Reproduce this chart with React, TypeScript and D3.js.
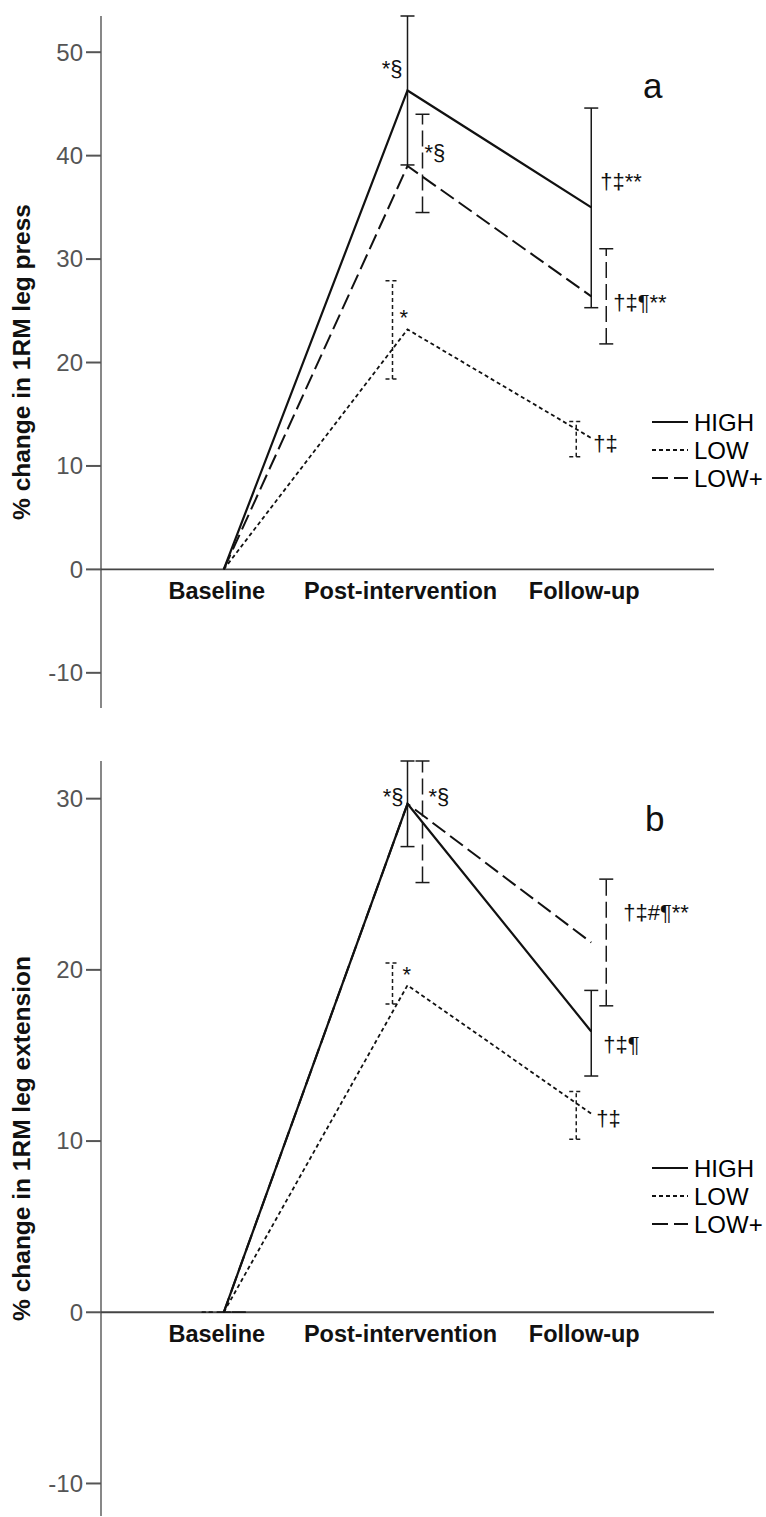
import * as d3 from 'd3';

const WIDTH = 766;
const HEIGHT = 1517;
const FONT = '"Liberation Sans", Arial, sans-serif';

// x positions shared by both panels
const categories = ['Baseline', 'Post-intervention', 'Follow-up'];
const seriesNames = ['HIGH', 'LOW', 'LOW+'];

// panel a : % change in 1RM leg press (mean, error bar low, error bar high)
const pressHigh = [0, 46.3, 35.0];
const pressHighLo = [null, 39.1, 25.3];
const pressHighHi = [null, 53.5, 44.6];
const pressLow = [0, 23.2, 12.7];
const pressLowLo = [null, 18.4, 10.9];
const pressLowHi = [null, 27.9, 14.3];
const pressLowPlus = [0, 39.0, 26.4];
const pressLowPlusLo = [null, 34.5, 21.8];
const pressLowPlusHi = [null, 44.0, 31.0];
const pressTicks = [-10, 0, 10, 20, 30, 40, 50];

// panel b : % change in 1RM leg extension
const extHigh = [0, 29.7, 16.4];
const extHighLo = [0, 27.2, 13.8];
const extHighHi = [0, 32.2, 18.8];
const extLow = [0, 19.1, 11.6];
const extLowLo = [0, 18.0, 10.1];
const extLowHi = [0, 20.4, 12.9];
const extLowPlus = [0, 29.7, 21.6];
const extLowPlusLo = [0, 25.1, 17.9];
const extLowPlusHi = [0, 32.2, 25.3];
const extTicks = [-10, 0, 10, 20, 30];

// significance marks: [category, value, pixel dx, anchor, text]
const pressNotes: [string, number, number, string, string][] = [
  ['Post-intervention', 47.7, -5, 'end', '*§'],
  ['Post-intervention', 39.6, 17, 'start', '*§'],
  ['Follow-up', 36.8, 9, 'start', '†‡**'],
  ['Follow-up', 25.1, 22, 'start', '†‡¶**'],
  ['Post-intervention', 23.6, -8, 'start', '*'],
  ['Follow-up', 11.4, 2, 'start', '†‡'],
];
const extNotes: [string, number, number, string, string][] = [
  ['Post-intervention', 29.7, -4, 'end', '*§'],
  ['Post-intervention', 29.7, 21, 'start', '*§'],
  ['Follow-up', 22.9, 32, 'start', '†‡#¶**'],
  ['Follow-up', 15.2, 12, 'start', '†‡¶'],
  ['Post-intervention', 19.3, -5, 'start', '*'],
  ['Follow-up', 10.9, 5, 'start', '†‡'],
];

const STYLE: Record<string, { dash: string; w: number; dodge: number }> = {
  HIGH: { dash: 'none', w: 2.2, dodge: 0 },
  LOW: { dash: '4,3', w: 1.8, dodge: -15 },
  'LOW+': { dash: '16,6', w: 2, dodge: 15 },
};

type Series = { name: string; mean: number[]; lo: (number | null)[]; hi: (number | null)[] };

const xScale = d3.scalePoint<string>().domain(categories).range([101, 714]).padding(0.668);

type PanelProps = {
  series: Series[];
  domain: [number, number];
  range: [number, number];
  ticks: number[];
  title: string;
  letter: string;
  letterPos: [number, number];
  legendY: number;
  notes: [string, number, number, string, string][];
};

const Panel = ({ series, domain, range, ticks, title, letter, letterPos, legendY, notes }: PanelProps) => {
  const y = d3.scaleLinear().domain(domain).range(range);
  const y0 = y(0);
  const line = d3
    .line<number>()
    .x((_, i) => xScale(categories[i]) as number)
    .y((d) => y(d));
  const axisX = 101;
  return (
    <g>
      {/* y axis */}
      <line x1={axisX} x2={axisX} y1={range[1]} y2={range[0]} stroke="#555" strokeWidth={1.4} />
      {ticks.map((t) => (
        <g key={t}>
          <line x1={86} x2={axisX} y1={y(t)} y2={y(t)} stroke="#555" strokeWidth={2} />
          <text x={83} y={y(t)} dy="0.35em" textAnchor="end" fontSize={24} fill="#555" fontFamily={FONT}>
            {t}
          </text>
        </g>
      ))}
      <text
        transform={`translate(30,${(range[0] + range[1]) / 2})rotate(-90)`}
        textAnchor="middle"
        fontSize={24.5}
        fontWeight="bold"
        fontFamily={FONT}
        fill="#111"
      >
        {title}
      </text>
      {/* zero line */}
      <line x1={axisX} x2={714} y1={y0} y2={y0} stroke="#444" strokeWidth={1.8} />
      {categories.map((c) => (
        <text
          key={c}
          x={(xScale(c) as number) - 7}
          y={y0 + 30}
          textAnchor="middle"
          fontSize={23.5}
          fontWeight="bold"
          fontFamily={FONT}
          fill="#111"
        >
          {c}
        </text>
      ))}
      {/* error bars */}
      {series.map((s) =>
        categories.map((c, i) => {
          const lo = s.lo[i];
          const hi = s.hi[i];
          if (lo === null || hi === null) return null;
          const st = STYLE[s.name];
          const cx = (xScale(c) as number) + st.dodge;
          return (
            <g key={s.name + c} stroke="#1a1a1a" strokeWidth={1.5} strokeDasharray={st.dash} fill="none">
              <line x1={cx} x2={cx} y1={y(lo)} y2={y(hi)} />
              <line x1={cx - 7} x2={cx + 7} y1={y(lo)} y2={y(lo)} />
              <line x1={cx - 7} x2={cx + 7} y1={y(hi)} y2={y(hi)} />
            </g>
          );
        })
      )}
      {/* mean lines */}
      {series.map((s) => (
        <path
          key={s.name}
          d={line(s.mean) || ''}
          fill="none"
          stroke="#111"
          strokeWidth={STYLE[s.name].w}
          strokeDasharray={STYLE[s.name].dash}
        />
      ))}
      {/* significance marks */}
      {notes.map(([c, v, dx, anchor, txt], i) => (
        <text
          key={i}
          x={(xScale(c) as number) + dx}
          y={y(v)}
          textAnchor={anchor as any}
          fontSize={22}
          fontFamily={FONT}
          fill="#111"
        >
          {txt}
        </text>
      ))}
      <text x={letterPos[0]} y={letterPos[1]} fontSize={35} fontFamily={FONT} fill="#111">
        {letter}
      </text>
      {/* legend */}
      {seriesNames.map((n, i) => (
        <g key={n}>
          <line
            x1={652}
            x2={688}
            y1={legendY + i * 28}
            y2={legendY + i * 28}
            stroke="#111"
            strokeWidth={2.2}
            strokeDasharray={STYLE[n].dash}
          />
          <text x={694} y={legendY + i * 28 + 8.5} fontSize={24} fontFamily={FONT} fill="#000">
            {n}
          </text>
        </g>
      ))}
    </g>
  );
};

export default function App() {
  const pressSeries: Series[] = [
    { name: 'HIGH', mean: pressHigh, lo: pressHighLo, hi: pressHighHi },
    { name: 'LOW', mean: pressLow, lo: pressLowLo, hi: pressLowHi },
    { name: 'LOW+', mean: pressLowPlus, lo: pressLowPlusLo, hi: pressLowPlusHi },
  ];
  const extSeries: Series[] = [
    { name: 'HIGH', mean: extHigh, lo: extHighLo, hi: extHighHi },
    { name: 'LOW', mean: extLow, lo: extLowLo, hi: extLowHi },
    { name: 'LOW+', mean: extLowPlus, lo: extLowPlusLo, hi: extLowPlusHi },
  ];
  return (
    <svg
      width={WIDTH}
      height={HEIGHT}
      style={{ position: 'absolute', left: 0, top: 0, background: '#fff' }}
    >
      <rect width={WIDTH} height={HEIGHT} fill="#fff" />
      <Panel
        series={pressSeries}
        domain={[-13.4, 53.5]}
        range={[708, 16]}
        ticks={pressTicks}
        title="% change in 1RM leg press"
        letter="a"
        letterPos={[643, 98]}
        legendY={422}
        notes={pressNotes}
      />
      <Panel
        series={extSeries}
        domain={[-11.9, 32.2]}
        range={[1516, 761]}
        ticks={extTicks}
        title="% change in 1RM leg extension"
        letter="b"
        letterPos={[645, 831]}
        legendY={1168}
        notes={extNotes}
      />
    </svg>
  );
}
